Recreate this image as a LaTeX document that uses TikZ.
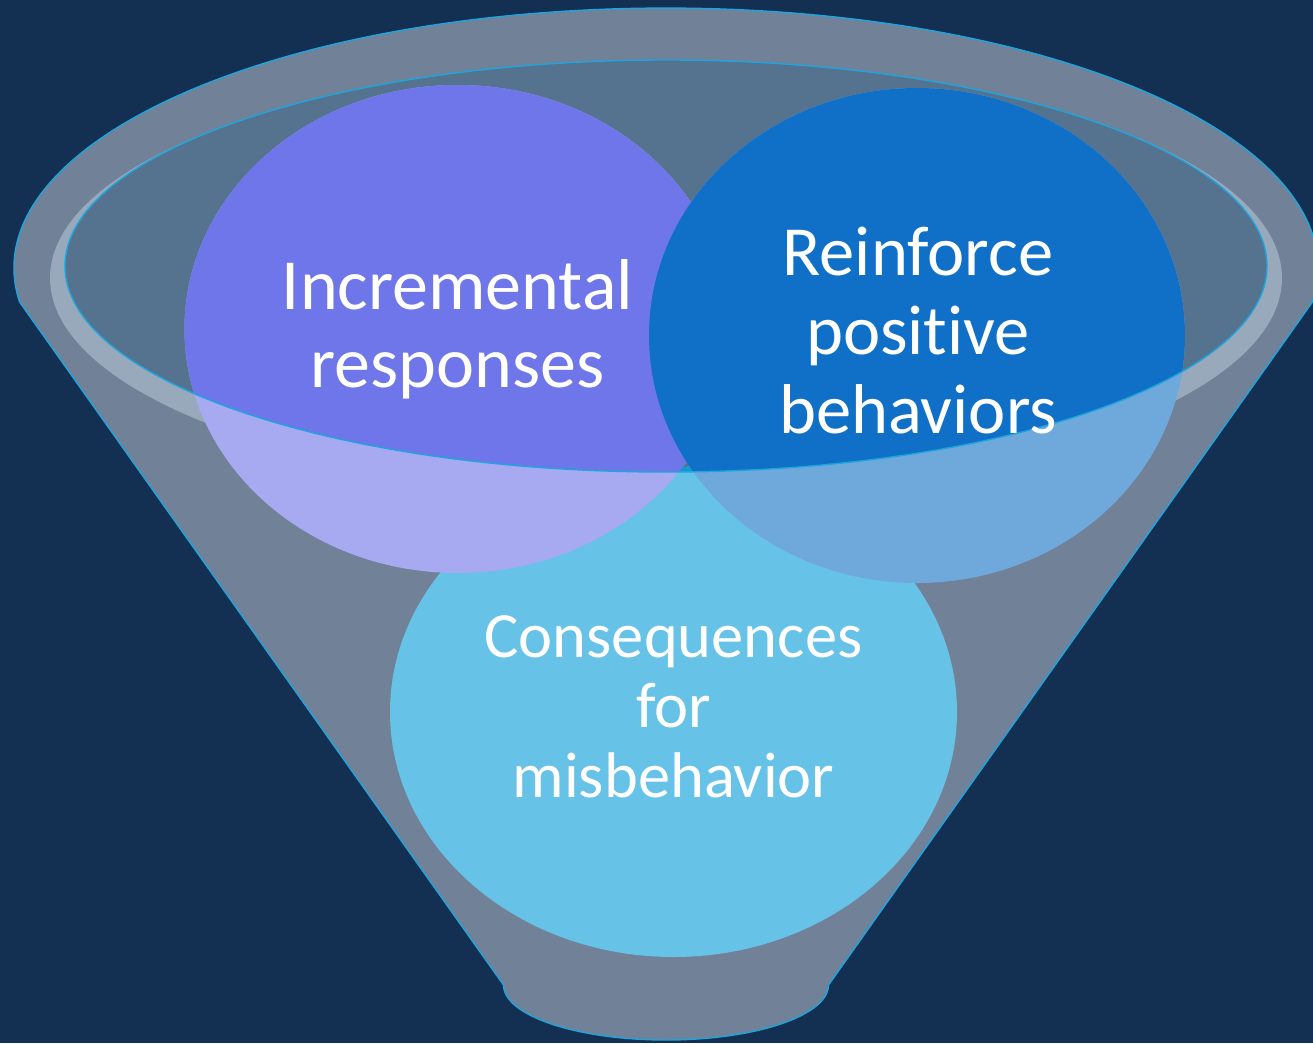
\documentclass[tikz,border=0pt]{standalone}
\usepackage{fontspec}
\setmainfont{Carlito}[Ligatures=NoCommon]
\definecolor{bgnavy}{HTML}{132F52}
\definecolor{funnelgray}{HTML}{708198}
\definecolor{ringgray}{HTML}{98A9BB}
\definecolor{innerblue}{HTML}{55728F}
\definecolor{edgecyan}{HTML}{1EA5DD}
\definecolor{incup}{HTML}{6E76E9}
\definecolor{inclow}{HTML}{A7A9F1}
\definecolor{reiup}{HTML}{1070C7}
\definecolor{reilow}{HTML}{6FA8DB}
\definecolor{conlow}{HTML}{66C2E7}
\definecolor{conup}{HTML}{0B9BD7}
\tikzset{
  lbl/.style={text=white, align=center, inner sep=0pt, anchor=base},
  bigfont/.style={font={\fontsize{72}{78}\selectfont}},
  midfont/.style={font={\fontsize{64.5}{70}\selectfont}},
  edge/.style={draw=edgecyan, line width=1.4pt}
}
\begin{document}
\begin{tikzpicture}[x=1pt,y=-1pt]
\useasboundingbox (0,0) rectangle (1313,1043);
\fill[bgnavy] (0,0) rectangle (1313,1043);
% funnel body
\path[fill=funnelgray, edge] (19.6,302)
  arc[start angle=172.5, end angle=367.5, x radius=652, y radius=260]
  -- (828.5,985)
  arc[start angle=0, end angle=180, x radius=162.5, y radius=55]
  -- cycle;
% light ring
\fill[ringgray] (666,278) ellipse [x radius=616, y radius=218];
% inner ellipse
\fill[innerblue] (666,266) ellipse [x radius=601, y radius=206];
% circles (lower tones)
\fill[conlow] (673.5,712) ellipse [x radius=283.5, y radius=245];
\fill[inclow] (457.5,329) ellipse [x radius=273, y radius=244];
\fill[reilow] (917,335.5) ellipse [x radius=268, y radius=247.5];
% circles inside the top ellipse (upper tones)
\begin{scope}
  \clip (666,266) ellipse [x radius=601, y radius=206];
  \fill[conup] (673.5,712) ellipse [x radius=283.5, y radius=245];
  \fill[incup] (457.5,329) ellipse [x radius=273, y radius=244];
  \fill[reiup] (917,335.5) ellipse [x radius=268, y radius=247.5];
\end{scope}
\draw[edge] (666,266) ellipse [x radius=601, y radius=206];
% labels (anchor = baseline of the last line)
\node[lbl, bigfont] (tinc) at (457.5,387) {Incremental\\responses};
\node[lbl, font={\fontsize{70.5}{79}\selectfont}] (trei) at (918,433) {Reinforce\\positive\\behaviors};
\node[lbl, midfont] (tcon) at (673.5,797) {Consequences\\for\\misbehavior};
\end{tikzpicture}
\end{document}
